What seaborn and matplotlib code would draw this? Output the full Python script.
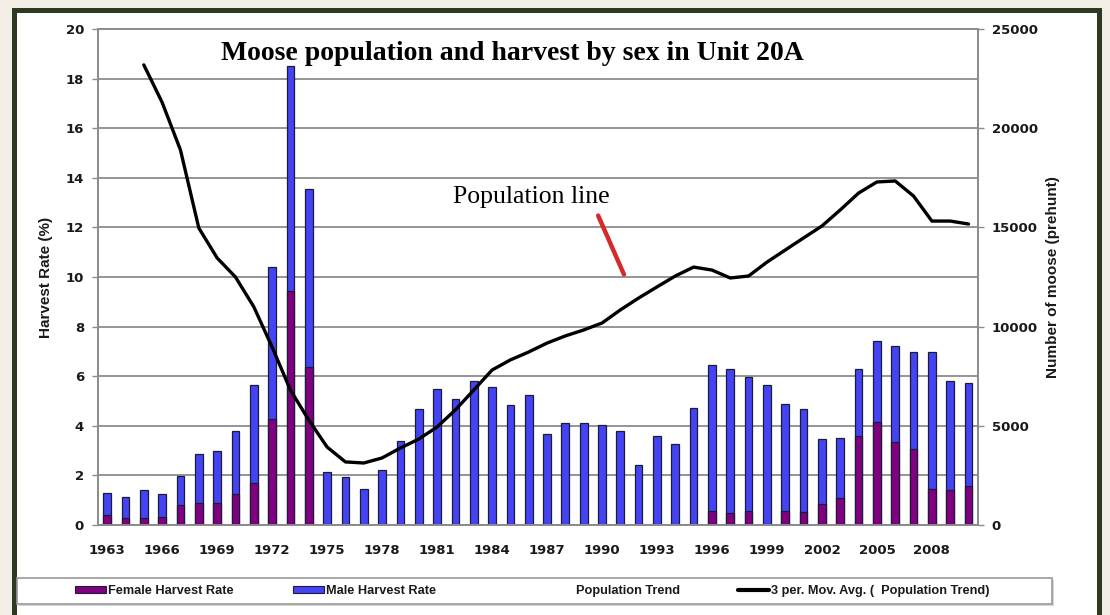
import numpy as np
import matplotlib
matplotlib.use("Agg")
import matplotlib.pyplot as plt
import seaborn as sns
from matplotlib.patches import Rectangle, Patch
from matplotlib.lines import Line2D

# Harvest rate data (percent), one bar per year
years = list(range(1963, 2011))
harvest_total = [1.29, 1.13, 1.41, 1.25, 1.98, 2.86, 2.98, 3.79, 5.64, 10.4, 18.5, 13.55,
                 2.14, 1.94, 1.45, 2.22, 3.39, 4.68, 5.48, 5.07, 5.8, 5.55, 4.85, 5.23,
                 3.67, 4.12, 4.12, 4.03, 3.79, 2.42, 3.6, 3.27, 4.72,
                 6.45, 6.3, 5.97, 5.64,
                 4.88, 4.68, 3.47, 3.5, 6.3, 7.42, 7.2, 6.98, 6.98, 5.8, 5.73]
female_rate = [0.4, 0.28, 0.3, 0.32, 0.8, 0.9, 0.9, 1.25, 1.7, 4.27, 9.44, 6.37,
               0, 0, 0, 0, 0, 0, 0, 0, 0, 0, 0, 0, 0, 0, 0, 0, 0, 0, 0, 0, 0,
               0.57, 0.49, 0.57, 0,
               0.56, 0.52, 0.85, 1.09, 3.59, 4.15, 3.35, 3.06, 1.45, 1.41, 1.57]

# Population trend (3 period moving average)
pop_years = list(range(1965, 2011))
pop_avg = [23190, 21300, 18900, 14970, 13460, 12500, 11000, 8970, 6800, 5290,
           3930, 3180, 3125, 3380, 3880, 4330, 4940, 5800, 6800, 7810,
           8320, 8720, 9170, 9530, 9830, 10180, 10840, 11440, 12000, 12550,
           13000, 12850, 12450, 12550, 13250, 13860, 14470, 15070, 15880, 16730,
           17290, 17340, 16580, 15320, 15320, 15170]

tick_years = list(range(1963, 2011, 3))

BLUE = "#4444f4"
PURPLE = "#800080"
EDGE = "#1c1c3a"
GRID = "#8c8c8c"
TXT = "#1a1a1a"

sns.set_style("white")
W, H = 1110, 615
fig = plt.figure(figsize=(W / 100, H / 100), dpi=100)
fig.patch.set_facecolor("#f3efe7")

# dark frame and white panel
fig.add_artist(Rectangle((12 / W, -0.05), (1102 - 12) / W, 1.05 - 8 / H,
                         transform=fig.transFigure, facecolor="#2e3a22", edgecolor="none", zorder=0))
fig.add_artist(Rectangle((17 / W, -0.05), (1097 - 17) / W, 1.05 - 13 / H,
                         transform=fig.transFigure, facecolor="white", edgecolor="none", zorder=0))

ax = fig.add_axes([98 / W, 1 - 525 / H, (977.7 - 98) / W, (525 - 29) / H])
ax.set_facecolor("none")

sns.barplot(x=years, y=harvest_total, color=BLUE, saturation=1, width=0.42,
            edgecolor=EDGE, linewidth=0.9, ax=ax, zorder=2)
sns.barplot(x=years, y=female_rate, color=PURPLE, saturation=1, width=0.42,
            edgecolor=EDGE, linewidth=0.9, ax=ax, zorder=3)

ax.set_ylim(0, 20)
ax.set_yticks(np.arange(0, 21, 2))
ax.set_axisbelow(True)
ax.yaxis.grid(True, color=GRID, lw=1.3)
ax.set_xlabel("")
ax.set_ylabel("Harvest Rate (%)", fontsize=11, fontweight="bold", color=TXT,
              family="Liberation Sans", labelpad=9)

pos = [years.index(y) for y in tick_years]
ax.set_xticks(pos)
ax.set_xticklabels([str(y) for y in tick_years])
ax.set_xticks(np.arange(-0.5, len(years), 1), minor=True)
ax.tick_params(axis="x", which="major", length=0, pad=14)
ax.tick_params(axis="x", which="minor", length=4, color=GRID, width=1)
ax.tick_params(axis="y", length=4, color=GRID, width=1, pad=6)
for lab in ax.get_xticklabels() + ax.get_yticklabels():
    lab.set_fontweight("bold")
    lab.set_fontsize(9.5)
    lab.set_color(TXT)
for s in ["left", "bottom", "right", "top"]:
    ax.spines[s].set_color(GRID)
    ax.spines[s].set_linewidth(1.3)

# population on right axis
ax2 = ax.twinx()
pop_pos = [years.index(y) for y in pop_years]
sns.lineplot(x=pop_pos, y=pop_avg, color="black", lw=2.4, ax=ax2)
ax2.set_ylim(0, 25000)
ax2.set_yticks(np.arange(0, 25001, 5000))
ax2.set_xlim(-0.5, len(years) - 0.5)
ax.set_xlim(-0.5, len(years) - 0.5)
ax2.tick_params(axis="y", length=4, color=GRID, width=1, pad=6)
for lab in ax2.get_yticklabels():
    lab.set_fontweight("bold")
    lab.set_fontsize(9.5)
    lab.set_color(TXT)
for s in ["left", "bottom", "right", "top"]:
    ax2.spines[s].set_color(GRID)
    ax2.spines[s].set_linewidth(1.3)
ax2.set_ylabel("Number of moose (prehunt)", fontsize=11, fontweight="bold", color=TXT,
               family="Liberation Sans", labelpad=6)

# title and annotation
fig.text(512 / W, 1 - 54 / H, "Moose population and harvest by sex in Unit 20A",
         ha="center", va="center", fontsize=20, fontweight="bold",
         family="Liberation Serif", color="black")
ax.text(23.13, 13.23, "Population line", ha="center", va="center", fontsize=18.5,
        family="Liberation Serif", color="black")
ax.annotate("", xy=(28.26, 10.0), xytext=(26.73, 12.58),
            arrowprops=dict(arrowstyle="-", color="#d42a2a", lw=3.2))

# legend: outer box, then one entry per slot
fig.add_artist(Rectangle((19 / W, 1 - 606 / H), (1035) / W, 26 / H, transform=fig.transFigure,
                         facecolor="#d6d6d6", edgecolor="none", zorder=1))
fig.add_artist(Rectangle((17 / W, 1 - 604 / H), (1035) / W, 26 / H, transform=fig.transFigure,
                         facecolor="white", edgecolor="#9a9a9a", lw=1.2, zorder=2))
handles = [Patch(facecolor=PURPLE, edgecolor=EDGE, lw=0.8),
           Patch(facecolor=BLUE, edgecolor=EDGE, lw=0.8),
           Line2D([], [], color="none"),
           Line2D([], [], color="black", lw=3)]
labels = ["Female Harvest Rate", "Male Harvest Rate", "Population Trend",
          "3 per. Mov. Avg. (  Population Trend)"]
starts = [75, 293, 543, 738]
for h, l, x0 in zip(handles, labels, starts):
    lg = fig.legend([h], [l], loc="center left", bbox_to_anchor=(x0 / W, 1 - 591 / H),
                    frameon=False, prop=dict(family="Liberation Sans", weight="bold", size=9.2),
                    handlelength=2.4, handleheight=0.5, handletextpad=0.15,
                    borderaxespad=0, borderpad=0)
    lg.set_zorder(3)
    for t in lg.get_texts():
        t.set_color(TXT)

fig.savefig("out.png", dpi=100, facecolor=fig.get_facecolor())
